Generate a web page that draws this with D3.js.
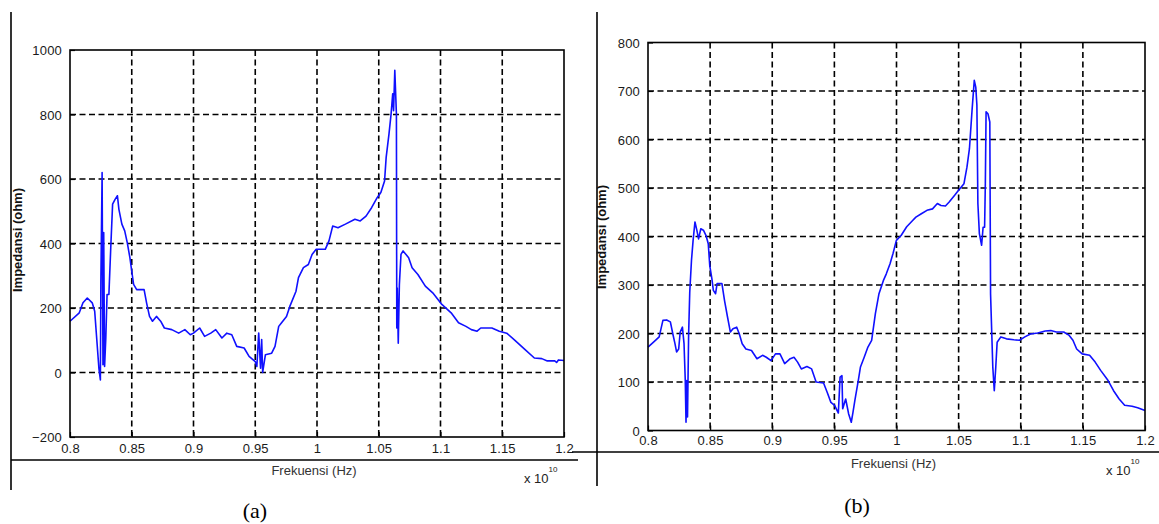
<!DOCTYPE html>
<html>
<head>
<meta charset="utf-8">
<script src="https://cdn.jsdelivr.net/npm/d3@7"></script>
<style>
  html, body { margin: 0; padding: 0; background: #fff; }
  svg { display: block; }
</style>
</head>
<body>
<svg id="chart" width="1159" height="524"></svg>
<script>
// ---------- DATA (frequency in units of 1e10 Hz, impedance in ohm) ----------
const freqA = [0.8,0.8075,0.8105,0.814,0.818,0.820,0.822,0.8234,0.8246,0.825,0.826,0.8267,0.8273,0.828,0.829,0.830,0.8315,0.833,0.8345,0.8365,0.8384,0.8396,0.842,0.8443,0.8464,0.8485,0.850,0.8515,0.854,0.860,0.862,0.8644,0.8668,0.870,0.8734,0.8764,0.8824,0.888,0.893,0.8974,0.900,0.905,0.909,0.914,0.918,0.923,0.927,0.931,0.935,0.941,0.945,0.950,0.9513,0.9528,0.9543,0.9552,0.956,0.9582,0.9633,0.966,0.969,0.971,0.9753,0.978,0.983,0.985,0.989,0.993,0.996,0.9993,1.0067,1.0097,1.0127,1.017,1.023,1.0307,1.035,1.0397,1.0442,1.0487,1.0517,1.0547,1.056,1.0583,1.06,1.0613,1.062,1.063,1.0643,1.0646,1.065,1.0658,1.0667,1.068,1.0697,1.0742,1.077,1.0817,1.0877,1.0937,1.1011,1.1086,1.1146,1.1206,1.125,1.1296,1.1326,1.1416,1.1476,1.1536,1.1596,1.1685,1.176,1.182,1.1865,1.1925,1.194,1.1955,1.2];
const impA  = [159,185,216,231,216,190,86,13,-23,283,620,24,434,19,107,242,242,387,522,537,548,506,460,439,402,356,314,273,257,257,216,174,159,174,159,138,133,122,133,117,122,138,112,122,133,107,122,117,81,76,50,34,19,122,13,102,0,55,60,81,143,153,174,205,252,294,325,335,366,382,382,408,454,449,460,475,470,485,511,542,558,594,667,740,802,864,812,937,802,138,262,91,273,366,377,356,325,304,268,247,211,185,154,143,133,128,138,138,128,122,102,71,45,43,36,36,31,39,37];

const freqB = [0.8,0.806,0.809,0.812,0.815,0.818,0.820,0.8217,0.823,0.8247,0.8259,0.8277,0.829,0.830,0.8306,0.8312,0.8318,0.8327,0.8336,0.835,0.8363,0.8378,0.8393,0.8407,0.8425,0.8446,0.8467,0.8485,0.8497,0.8514,0.8526,0.8544,0.8556,0.8595,0.8616,0.864,0.8663,0.8684,0.8714,0.8735,0.8758,0.8788,0.8833,0.8877,0.8922,0.8952,0.899,0.9026,0.9062,0.910,0.9145,0.9175,0.9204,0.9234,0.9279,0.9317,0.9353,0.9413,0.9442,0.9472,0.9502,0.9532,0.9546,0.9561,0.9567,0.9591,0.9615,0.9636,0.965,0.9665,0.9695,0.971,0.974,0.977,0.980,0.983,0.9859,0.9894,0.9918,0.9948,0.9972,0.9999,1.0037,1.0082,1.0126,1.0156,1.02,1.0245,1.029,1.0329,1.0358,1.0394,1.0424,1.0468,1.0498,1.0543,1.0567,1.0587,1.0608,1.0626,1.0638,1.0647,1.0655,1.0667,1.0685,1.0697,1.0709,1.0715,1.0721,1.0736,1.0751,1.0757,1.0775,1.0787,1.0799,1.081,1.084,1.0885,1.0944,1.099,1.1033,1.1078,1.1137,1.1197,1.1242,1.1286,1.1346,1.139,1.142,1.145,1.1494,1.1554,1.1599,1.1643,1.1703,1.1747,1.1792,1.1836,1.1896,1.1941,1.2];
const impB  = [172,186,193,227,228,224,199,179,162,168,203,213,179,103,17,103,28,199,285,351,392,430,413,395,416,413,402,385,340,313,289,282,303,303,268,234,203,210,213,199,179,168,165,148,155,151,144,158,158,138,148,151,141,127,132,127,100,98,79,58,52,36,110,113,45,65,34,17,38,62,107,131,151,172,186,241,282,309,323,344,365,392,402,420,432,440,447,454,457,468,464,463,471,485,495,509,543,581,660,722,708,671,468,406,382,419,419,509,657,653,636,282,131,82,131,182,193,189,187,186,193,199,201,205,206,203,203,196,186,168,158,155,141,124,103,82,65,52,50,47,41];

const xTicks = [0.8,0.85,0.9,0.95,1,1.05,1.1,1.15,1.2];
const xTickLabels = ["0.8","0.85","0.9","0.95","1","1.05","1.1","1.15","1.2"];
const yTicksA = [-200,0,200,400,600,800,1000];
const yTicksB = [0,100,200,300,400,500,600,700,800];

const xTitle = "Frekuensi (Hz)";
const yTitle = "Impedansi (ohm)";

// ---------- DRAWING ----------
const svg = d3.select("#chart");
const tickFont = "Liberation Sans, Arial, sans-serif";

function drawPanel(p) {
  const x = d3.scaleLinear().domain([0.8, 1.2]).range([p.left, p.right]);
  const y = d3.scaleLinear().domain(p.yDomain).range([p.bottom, p.top]);
  const g = svg.append("g");

  // grid
  g.selectAll(".vg").data(xTicks.slice(1, -1)).enter().append("line")
    .attr("x1", d => x(d)).attr("x2", d => x(d))
    .attr("y1", p.top).attr("y2", p.bottom)
    .attr("stroke", "#000").attr("stroke-width", 1.6).attr("stroke-dasharray", "6,3.5");
  g.selectAll(".hg").data(p.yTicks.slice(1, -1)).enter().append("line")
    .attr("x1", p.left).attr("x2", p.right)
    .attr("y1", d => y(d)).attr("y2", d => y(d))
    .attr("stroke", "#000").attr("stroke-width", 1.6).attr("stroke-dasharray", "6,3.5");

  // axes via d3 (ticks inward)
  const xAxis = d3.axisBottom(x).tickValues(xTicks).tickFormat((d, i) => xTickLabels[i])
    .tickSizeInner(-5).tickSizeOuter(0).tickPadding(p.xPad);
  const yAxis = d3.axisLeft(y).tickValues(p.yTicks).tickFormat(d3.format("d"))
    .tickSizeInner(-5).tickSizeOuter(0).tickPadding(8);

  const gx = g.append("g").attr("transform", `translate(0,${p.bottom})`).call(xAxis);
  const gy = g.append("g").attr("transform", `translate(${p.left},0)`).call(yAxis);
  [gx, gy].forEach(a => {
    a.select(".domain").remove();
    a.selectAll(".tick line").attr("stroke", "#000").attr("stroke-width", 1.2);
    a.selectAll("text").attr("fill", "#1a1a1a").style("font-family", tickFont)
      .style("font-size", "13px").style("letter-spacing", "0.2px");
  });
  gy.selectAll("text").attr("dy", "0.36em");

  // curve
  const pts = p.freq.map((f, i) => [f, p.imp[i]]);
  g.append("path").datum(pts)
    .attr("fill", "none").attr("stroke", "#1010ff").attr("stroke-width", 1.6)
    .attr("stroke-linejoin", "round")
    .attr("d", d3.line().x(d => x(d[0])).y(d => y(d[1])));

  // box
  g.append("rect").attr("x", p.left).attr("y", p.top)
    .attr("width", p.right - p.left).attr("height", p.bottom - p.top)
    .attr("fill", "none").attr("stroke", "#000").attr("stroke-width", 1.6);

  // outer axis lines
  g.append("line").attr("x1", p.vx).attr("x2", p.vx).attr("y1", 12).attr("y2", p.vy2)
    .attr("stroke", "#000").attr("stroke-width", 1.6);
  g.append("line").attr("x1", p.hx1).attr("x2", p.hx2).attr("y1", p.hy).attr("y2", p.hy)
    .attr("stroke", "#000").attr("stroke-width", 1.6);

  // titles
  g.append("text").attr("x", (p.left + p.right) / 2 - 3).attr("y", p.xTitleY)
    .attr("text-anchor", "middle").attr("fill", "#333")
    .style("font-family", tickFont).style("font-size", "13px").text(xTitle);
  g.append("text").attr("transform", `translate(${p.yTitleX},${p.yTitleY}) rotate(-90)`)
    .attr("text-anchor", "middle").attr("fill", "#111")
    .style("font-family", tickFont).style("font-size", "13px").style("font-weight", "bold")
    .text(yTitle);

  // exponent
  const ex = g.append("text").attr("x", p.expX).attr("y", p.expY)
    .attr("fill", "#222").style("font-family", tickFont).style("font-size", "13px");
  ex.append("tspan").text("x 10");
  ex.append("tspan").attr("dy", -11).style("font-size", "8px").text("10");

  // panel label
  g.append("text").attr("x", p.labelX).attr("y", p.labelY).attr("text-anchor", "middle")
    .attr("fill", "#000").style("font-family", "Liberation Serif, Times New Roman, serif")
    .style("font-size", "22px").text(p.label);
}

drawPanel({
  left: 70, right: 564, top: 50, bottom: 437,
  yDomain: [-200, 1000], yTicks: yTicksA, freq: freqA, imp: impA, xPad: 7,
  vx: 11, vy2: 490, hx1: 11, hx2: 578, hy: 460,
  xTitleY: 475, yTitleX: 22, yTitleY: 240,
  expX: 524, expY: 483, label: "(a)", labelX: 255, labelY: 518
});
drawPanel({
  left: 648, right: 1145, top: 42.5, bottom: 430.5,
  yDomain: [0, 800], yTicks: yTicksB, freq: freqB, imp: impB, xPad: 5,
  vx: 597, vy2: 486, hx1: 572, hx2: 1159, hy: 452,
  xTitleY: 468, yTitleX: 606, yTitleY: 237,
  expX: 1106, expY: 475, label: "(b)", labelX: 857, labelY: 513
});
</script>
</body>
</html>
